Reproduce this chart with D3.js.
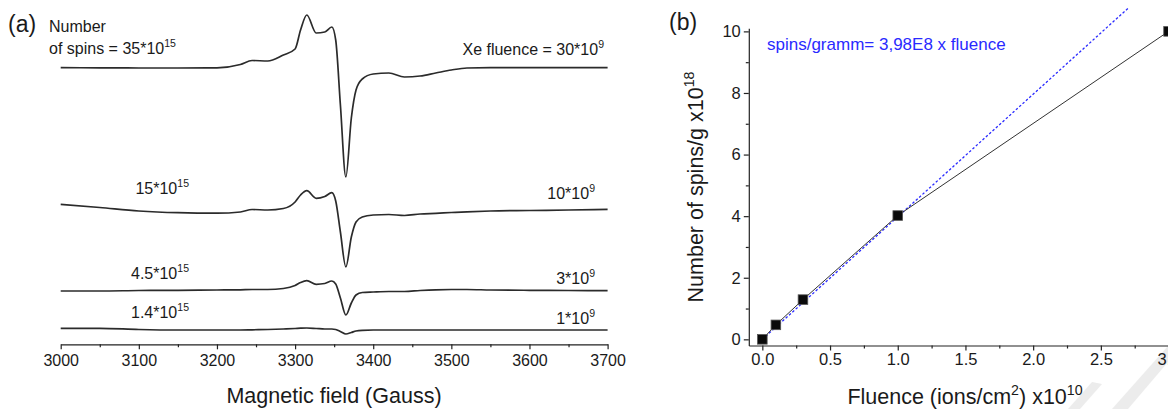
<!DOCTYPE html>
<html>
<head>
<meta charset="utf-8">
<script src="https://cdn.jsdelivr.net/npm/d3@7"></script>
<style>
  html, body { margin: 0; padding: 0; background: #fff; }
  svg { display: block; }
  text { font-family: "Liberation Sans", Arial, sans-serif; fill: #1a1a1a; }
</style>
</head>
<body>
<svg id="chart" width="1168" height="409"></svg>
<script>
// ---------------- Panel (a): EPR spectra ----------------
const fields = [3000, 3050, 3100, 3150, 3200, 3230, 3245, 3265, 3285, 3300, 3307, 3315, 3327, 3338, 3347, 3352,
                3358, 3365, 3372, 3378, 3386, 3400, 3420, 3440, 3460, 3480, 3500, 3520, 3550, 3600, 3650, 3700];
const spectrum30 = [0.6, 0.5, 0.3, 0.3, 0.5, 3.8, 7.8, 7.3, 13.3, 19.3, 38.3, 53.3, 35.3, 36.3, 41.3, 28.3,
                    -36.7, -108.7, -49.7, -21.7, -10.7, -5.7, -4.7, -8.7, -7.7, -4.7, -1.7, 0.3, 0.6, 0.6, 0.6, 0.6];
const spectrum10 = [9.0, 5.8, 2.3, 0.6, 0.1, 1.3, 3.8, 3.3, 4.8, 11.3, 18.3, 22.6, 15.0, 16.8, 20.6, 12.3,
                    -18.7, -53.7, -23.7, -8.7, -3.7, -1.7, -1.2, -2.2, -0.7, 0, 0.8, 1.5, 2.3, 2.8, 3.3, 4.0];
const spectrum3 = [-0.7, -0.7, -0.2, 0, 0.3, 0.5, 0.8, 0.8, 1.8, 4.8, 7.8, 9.6, 6.0, 6.8, 9.3, 6.3,
                   -7.7, -24.7, -12.7, -4.7, -2.2, -1.7, -1.2, -1.2, -0.2, 0.5, 0.8, 0.8, 0.3, 0, -0.2, -0.4];
const spectrum1 = [2.0, 2.0, 0.8, 0.3, 0.3, 0.3, 0.5, 0.8, 1.3, 1.8, 2.1, 2.3, 1.8, 1.3, 1.3, 0.8,
                   -1.2, -3.7, -2.2, -0.7, 0, 0.3, 0.3, 0.3, 0.3, 0.3, 0.3, 0.3, 0.3, 0.3, 0.3, 0.3];
const spectrumOffsets = [276, 131, 54, 14];
const spinLabels = [["35*10", "15"], ["15*10", "15"], ["4.5*10", "15"], ["1.4*10", "15"]];
const fluenceLabels = [["Xe fluence = 30*10", "9"], ["10*10", "9"], ["3*10", "9"], ["1*10", "9"]];
const fieldTicks = [3000, 3100, 3200, 3300, 3400, 3500, 3600, 3700];
const fieldMinorTicks = [3050, 3150, 3250, 3350, 3450, 3550, 3650];

// ---------------- Panel (b): spins vs fluence ----------------
const fluence = [0, 0.1, 0.3, 1.0, 3.0];
const spinsPerGram = [0, 0.47, 1.29, 4.02, 10.0];
const fitSlope = 3.98;
const fitRange = [0, 2.7];
const fluenceTicks = [0, 0.5, 1.0, 1.5, 2.0, 2.5, 3.0];
const fluenceMinorTicks = [0.25, 0.75, 1.25, 1.75, 2.25, 2.75];
const spinTicks = [0, 2, 4, 6, 8, 10];
const spinMinorTicks = [1, 3, 5, 7, 9];

const svg = d3.select("#chart");
const FONT = '"Liberation Sans", Arial, sans-serif';

function rich(sel, parts, size) {
  let prevSup = false;
  parts.forEach(([t, sup]) => {
    const ts = sel.append("tspan").text(t);
    if (sup) {
      ts.attr("font-size", size * 0.66).attr("dy", prevSup ? 0 : -size * 0.42);
    } else {
      ts.attr("font-size", size).attr("dy", prevSup ? size * 0.42 : 0);
    }
    prevSup = sup;
  });
  return sel;
}

// faint watermark stripes (background decoration)
const wm = svg.append("g").attr("fill", "#ececec");
wm.append("path").attr("d", "M1068,409 L1080,409 L1102,384 L1092,382 Z");
wm.append("path").attr("d", "M1112,409 L1128,409 L1168,362 L1168,346 Z");

// ===== Panel (a) =====
const xA = d3.scaleLinear().domain([3000, 3700]).range([60.7, 607.6]);
const yA = d3.scaleLinear().domain([0, 340]).range([344.3, 4.3]);
const spectra = [spectrum30, spectrum10, spectrum3, spectrum1];

const lineA = d3.line()
  .x(d => xA(d[0]))
  .y(d => yA(d[1]))
  .curve(d3.curveMonotoneX);

const gA = svg.append("g");
spectra.forEach((s, i) => {
  const pts = fields.map((f, j) => [f, spectrumOffsets[i] + s[j]]);
  gA.append("path")
    .attr("d", lineA(pts))
    .attr("fill", "none")
    .attr("stroke", "#2b2b2b")
    .attr("stroke-width", 1.7)
    .attr("stroke-linejoin", "round");
});

const axA = gA.append("g").attr("transform", `translate(0,${yA(0)})`)
  .call(d3.axisBottom(xA).tickValues(fieldTicks).tickSize(5).tickSizeOuter(0).tickPadding(5).tickFormat(d3.format("d")));
const axAm = gA.append("g").attr("transform", `translate(0,${yA(0)})`)
  .call(d3.axisBottom(xA).tickValues(fieldMinorTicks).tickSize(3).tickSizeOuter(0).tickFormat(""));
axAm.select(".domain").remove();
[axA, axAm].forEach(a => {
  a.selectAll("path,line").attr("stroke", "#222").attr("stroke-width", 1.2);
  a.selectAll("text").attr("font-size", 16).attr("font-family", FONT).attr("fill", "#1a1a1a");
});

gA.append("text").attr("x", 334).attr("y", 403).attr("text-anchor", "middle")
  .attr("font-size", 21.5).text("Magnetic field (Gauss)");

gA.append("text").attr("x", 8).attr("y", 32).attr("font-size", 23).text("(a)");
gA.append("text").attr("x", 49).attr("y", 32).attr("font-size", 16).text("Number");
rich(gA.append("text").attr("x", 49).attr("y", 54), [["of spins = " + spinLabels[0][0], false], [spinLabels[0][1], true]], 16);
rich(gA.append("text").attr("x", 604).attr("y", 55).attr("text-anchor", "end"),
     [[fluenceLabels[0][0], false], [fluenceLabels[0][1], true]], 16);

const leftLabelY = [null, 194, 279, 318];
const rightLabelY = [null, 199, 284, 324];
for (let i = 1; i < 4; i++) {
  rich(gA.append("text").attr("x", 189).attr("y", leftLabelY[i]).attr("text-anchor", "end"),
       [[spinLabels[i][0], false], [spinLabels[i][1], true]], 16);
  rich(gA.append("text").attr("x", 595).attr("y", rightLabelY[i]).attr("text-anchor", "end"),
       [[fluenceLabels[i][0], false], [fluenceLabels[i][1], true]], 16);
}

// ===== Panel (b) =====
const xB = d3.scaleLinear().domain([-0.1, 3.1]).range([748.8, 1182.1]);
const yB = d3.scaleLinear().domain([-0.2, 10.1]).range([345.5, 28.3]);
const gB = svg.append("g");

const axBx = gB.append("g").attr("transform", `translate(0,${yB(-0.2)})`)
  .call(d3.axisBottom(xB).tickValues(fluenceTicks).tickSize(5).tickSizeOuter(0).tickPadding(3).tickFormat(d3.format(".1f")));
const axBxm = gB.append("g").attr("transform", `translate(0,${yB(-0.2)})`)
  .call(d3.axisBottom(xB).tickValues(fluenceMinorTicks).tickSize(3).tickSizeOuter(0).tickFormat(""));
axBxm.select(".domain").remove();
const axBy = gB.append("g").attr("transform", `translate(${xB(-0.1)},0)`)
  .call(d3.axisLeft(yB).tickValues(spinTicks).tickSize(5).tickSizeOuter(0).tickPadding(3).tickFormat(d3.format("d")));
const axBym = gB.append("g").attr("transform", `translate(${xB(-0.1)},0)`)
  .call(d3.axisLeft(yB).tickValues(spinMinorTicks).tickSize(3).tickSizeOuter(0).tickFormat(""));
axBym.select(".domain").remove();
[axBx, axBxm, axBy, axBym].forEach(a => {
  a.selectAll("path,line").attr("stroke", "#222").attr("stroke-width", 1.2);
  a.selectAll("text").attr("font-size", 16.5).attr("font-family", FONT).attr("fill", "#1a1a1a");
});

// fit line (blue dotted)
const fitPts = fitRange.map(f => [f, fitSlope * f]);
gB.append("path")
  .attr("d", d3.line().x(d => xB(d[0])).y(d => yB(d[1]))(fitPts))
  .attr("fill", "none").attr("stroke", "#2a2aff").attr("stroke-width", 1.3)
  .attr("stroke-dasharray", "2.5,2");

// data line + markers
const dataPts = fluence.map((f, i) => [f, spinsPerGram[i]]);
gB.append("path")
  .attr("d", d3.line().x(d => xB(d[0])).y(d => yB(d[1]))(dataPts))
  .attr("fill", "none").attr("stroke", "#333").attr("stroke-width", 1);
gB.selectAll("rect.pt").data(dataPts).enter().append("rect")
  .attr("class", "pt")
  .attr("x", d => xB(d[0]) - 4.8).attr("y", d => yB(d[1]) - 4.8)
  .attr("width", 9.6).attr("height", 9.6)
  .attr("fill", "#0a0a0a").attr("stroke", "#555").attr("stroke-width", 0.8);

gB.append("text").attr("x", 669).attr("y", 30).attr("font-size", 23).text("(b)");
gB.append("text").attr("x", 767).attr("y", 50).attr("font-size", 17).style("fill", "#2a2aff")
  .text("spins/gramm= 3,98E8 x fluence");

rich(gB.append("text").attr("transform", "translate(703,187) rotate(-90)").attr("text-anchor", "middle"),
     [["Number of spins/g x10", false], ["18", true]], 21.5);
rich(gB.append("text").attr("x", 965).attr("y", 404).attr("text-anchor", "middle"),
     [["Fluence (ions/cm", false], ["2", true], [") x10", false], ["10", true]], 21.5);
</script>
</body>
</html>
